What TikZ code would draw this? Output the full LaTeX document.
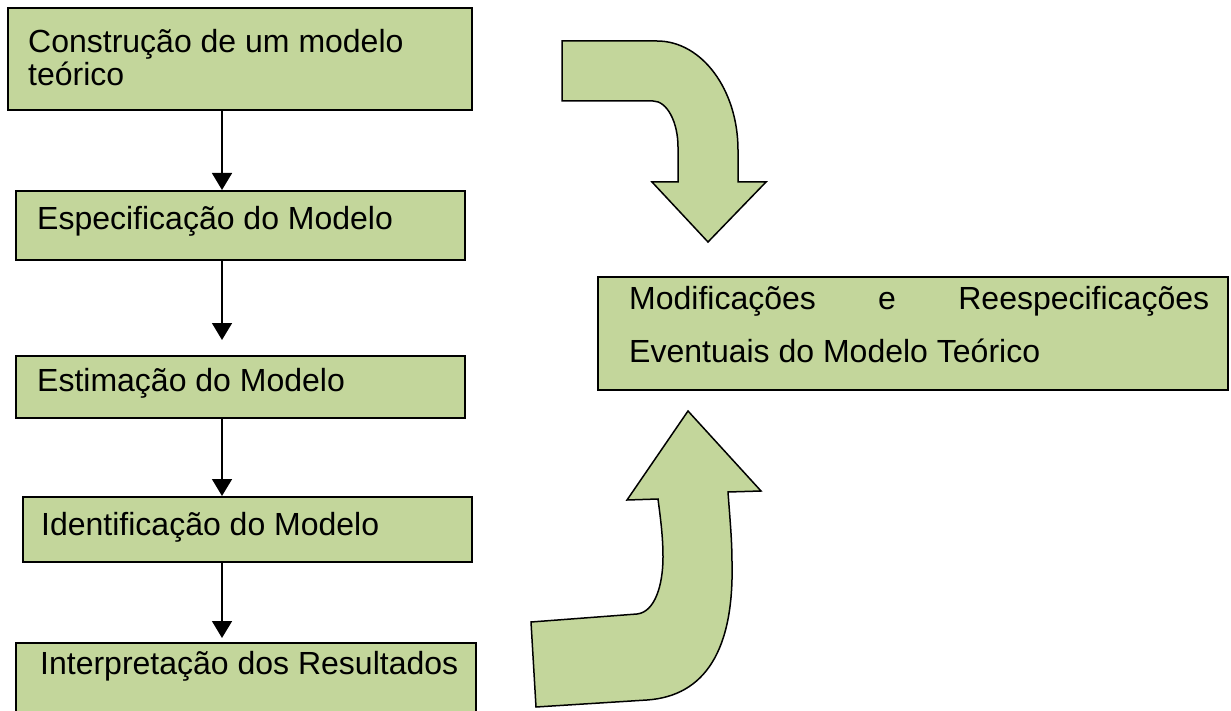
\documentclass[tikz,border=0pt]{standalone}
\usepackage{fontspec}
\setmainfont{Liberation Sans}
\usetikzlibrary{arrows.meta}
\definecolor{boxgreen}{HTML}{C3D69B}
\tikzset{
  stepbox/.style={draw=black, line width=2pt, fill=boxgreen, rectangle, inner sep=0pt, anchor=north west},
  label text/.style={inner sep=0pt, anchor=base west, font=\fontsize{32}{33}\selectfont},
  flow/.style={draw=black, line width=1.6pt, -{Triangle[width=20pt,length=17pt]}},
  bent arrow/.style={draw=black, line width=1.5pt, fill=boxgreen, line join=miter}
}
\begin{document}
\begin{tikzpicture}[x=1pt, y=-1pt]
\useasboundingbox (0,0) rectangle (1231,711);
\clip (0,0) rectangle (1231,711);

% process boxes
\node[stepbox, minimum width=464pt, minimum height=102pt] (b1) at (7,7) {};
\node[stepbox, minimum width=449pt, minimum height=69pt] (b2) at (15,190) {};
\node[stepbox, minimum width=449pt, minimum height=62pt] (b3) at (15,355) {};
\node[stepbox, minimum width=449pt, minimum height=65pt] (b4) at (22,496) {};
\node[stepbox, minimum width=460pt, minimum height=90pt] (b5) at (15,642) {};
\node[stepbox, minimum width=630pt, minimum height=113pt] (b6) at (597,276) {};

% box texts
\node[label text] (t1a) at (28,53) {Construção de um modelo};
\node[label text] (t1b) at (28,86) {teórico};
\node[label text] (t2) at (37,230) {Especificação do Modelo};
\node[label text] (t3) at (37,391) {Estimação do Modelo};
\node[label text] (t4) at (41,535) {Identificação do Modelo};
\node[label text] (t5) at (40,674) {Interpretação dos Resultados};
\node[label text] (t6a) at (629,309) {\makebox[580pt][s]{Modificações\hfill e\hfill Reespecificações}};
\node[label text] (t6b) at (629,362) {Eventuais do Modelo Teórico};

% vertical flow connectors
\coordinate (ax) at (222,0);
\draw[flow] (b1.south -| ax) -- (b2.north -| ax);
\draw[flow, shorten >=15pt] (b2.south -| ax) -- (b3.north -| ax);
\draw[flow] (b3.south -| ax) -- (b4.north -| ax);
\draw[flow, shorten >=4pt] (b4.south -| ax) -- (b5.north -| ax);

% bent arrow turning down towards the revision box
\draw[bent arrow] (562,41) -- (657,41)
  .. controls (702,41) and (738,90) .. (738,150)
  -- (738,182) -- (766,182) -- (708,242) -- (652,182) -- (678,182) -- (678,147)
  .. controls (678,122) and (667,101) .. (653,101)
  -- (562,101) -- cycle;

% bent arrow rising from the results towards the revision box
\draw[bent arrow] (688,411) -- (761,491) -- (728,492)
  .. controls (730,520) and (732,540) .. (732,563)
  .. controls (734,650) and (705,696) .. (647,700)
  -- (536,707) -- (531,622) -- (637,614)
  .. controls (655,612) and (663,585) .. (663,557)
  .. controls (663,535) and (660,515) .. (658,499)
  -- (627,500) -- cycle;
\end{tikzpicture}
\end{document}
